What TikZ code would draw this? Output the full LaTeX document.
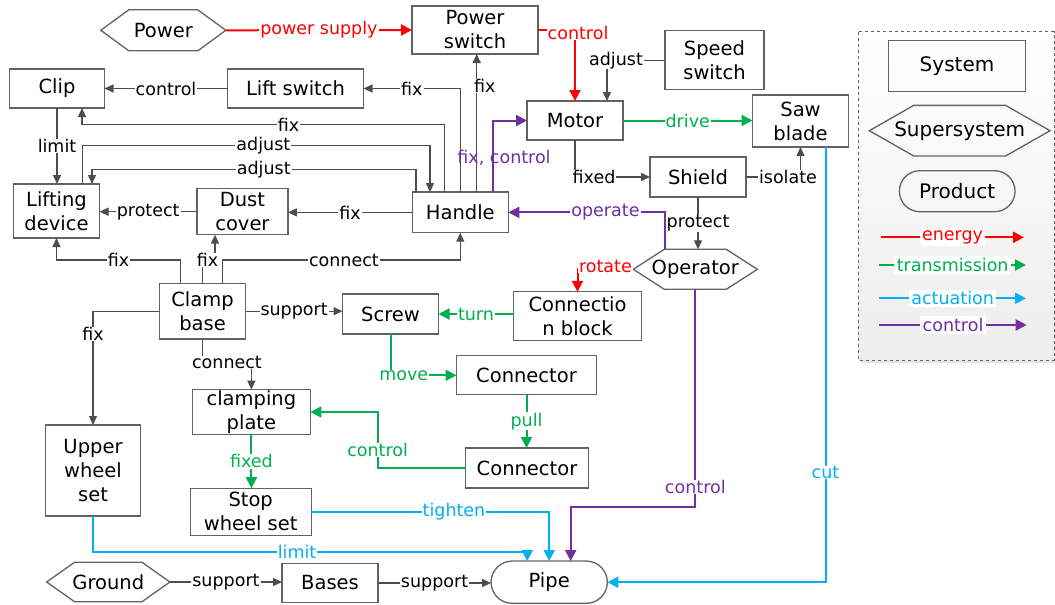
\documentclass[tikz,border=0pt]{standalone}
\usepackage{fontspec}
\setmainfont{DejaVu Sans}
\usetikzlibrary{arrows.meta,shapes.misc}
\definecolor{cred}{HTML}{FF0000}
\definecolor{cgreen}{HTML}{00B050}
\definecolor{cblue}{HTML}{00B0F0}
\definecolor{cpurple}{HTML}{7030A0}
\definecolor{lgray}{HTML}{4D4D4D}
\definecolor{bgray}{HTML}{626262}
\newcommand{\hexof}[2]{\draw[hexline] (#1.west) -- ([xshift=#2]#1.north west) -- ([xshift=-#2]#1.north east) -- (#1.east) -- ([xshift=-#2]#1.south east) -- ([xshift=#2]#1.south west) -- cycle;}
\tikzset{
  wh/.style 2 args={minimum width=#1pt,minimum height=#2pt},
  box/.style={draw=bgray,line width=1.3pt,fill=white,outer sep=0pt,inner sep=1pt,align=center,font=\fontsize{19.5}{24}\selectfont,text=black},
  hexn/.style={draw=none,outer sep=0pt,inner sep=1pt,align=center,font=\fontsize{19.5}{24}\selectfont,text=black},
  hexline/.style={draw=bgray,line width=1.3pt},
  lbl/.style={fill=white,inner xsep=1pt,inner ysep=0.5pt,font=\fontsize{17.5}{20}\selectfont,text=black},
  glink/.style={draw=lgray,line width=1.3pt,-{Triangle[length=9pt,width=8pt]}},
  rlink/.style={draw=cred,line width=2pt,-{Triangle[length=11pt,width=11pt]}},
  gnlink/.style={draw=cgreen,line width=2pt,-{Triangle[length=11pt,width=11pt]}},
  blink/.style={draw=cblue,line width=2pt,-{Triangle[length=11pt,width=11pt]}},
  plink/.style={draw=cpurple,line width=2pt,-{Triangle[length=11pt,width=11pt]}},
  leglbl/.style={lbl,inner xsep=2.5pt,inner ysep=2pt}
}
\begin{document}
\begin{tikzpicture}[x=1pt,y=-1pt]
\useasboundingbox (0,0) rectangle (1055,605);
% legend background
\fill[black!10] (861,34.5) rectangle (1055,363);
\path[draw=bgray,dashed,line width=0.8pt,top color=white,bottom color=black!7] (858.3,31.7) rectangle (1054,360);

% nodes
\node[box,wh={126}{48}] (pswitch) at (475,30) {Power\\switch};
\node[hexn,wh={125}{41}] (power) at (163.3,30.3) {Power};
\hexof{power}{28pt}
\node[box,wh={99}{59}] (speed) at (714.5,60.3) {Speed\\switch};
\node[box,wh={95}{39}] (clip) at (57,88.5) {Clip};
\node[box,wh={136}{39}] (lift) at (295.5,88.5) {Lift switch};
\node[box,wh={96}{39}] (motor) at (575,120.5) {Motor};
\node[box,wh={96}{52}] (saw) at (800.5,121) {Saw\\blade};
\node[box,wh={96}{40}] (shield) at (698,177) {Shield};
\node[box,wh={86}{54}] (lifting) at (56.5,211) {Lifting\\device};
\node[box,wh={91}{46}] (dust) at (242.4,211.7) {Dust\\cover};
\node[box,wh={96}{40.6}] (handle) at (460.3,212.4) {Handle};
\node[hexn,wh={124}{40}] (operator) at (695.3,269.3) {Operator};
\hexof{operator}{31pt}
\node[box,wh={86.4}{55.7}] (clamp) at (202.5,311.2) {Clamp\\base};
\node[box,wh={96}{40}] (screw) at (390.5,314) {Screw};
\node[box,wh={128}{49}] (connblock) at (577.5,316.3) {Connectio\\n block};
\node[box,wh={140}{39}] (conn1) at (526.5,375.3) {Connector};
\node[box,wh={118}{44}] (plate) at (251.4,412) {clamping\\plate};
\node[box,wh={123}{40}] (conn2) at (527,468) {Connector};
\node[box,wh={95}{91}] (upper) at (93,470.5) {Upper\\wheel\\set};
\node[box,wh={121}{47}] (stop) at (250.7,511.7) {Stop\\wheel set};
\node[hexn,wh={123.3}{39.5}] (ground) at (108.3,582) {Ground};
\hexof{ground}{28pt}
\node[box,wh={96}{39}] (bases) at (330,583) {Bases};
\node[box,rounded rectangle,wh={118.3}{42.3}] (pipe) at (549.2,582.2) {Pipe};

% legend nodes
\node[box,fill=none,wh={137.4}{51},font=\fontsize{20}{24}\selectfont] (lsys) at (957,66.2) {System};
\node[hexn,wh={180.7}{50.7},font=\fontsize{20}{24}\selectfont] (lsup) at (959.7,130.7) {Supersystem};
\hexof{lsup}{44.5pt}
\node[box,fill=none,rounded rectangle,wh={117.7}{41},font=\fontsize{20}{24}\selectfont] (lprod) at (957.2,191.2) {Product};
\coordinate (e1) at (881,237.3); \coordinate (e2) at (1024,237.3);
\coordinate (t1) at (879.3,265); \coordinate (t2) at (1026,265);
\coordinate (a1) at (879.3,298.3); \coordinate (a2) at (1026,298.3);
\coordinate (c1) at (879.3,325); \coordinate (c2) at (1026.7,325);
\draw[rlink] (e1) -- node[leglbl,text=cred]{energy} (e2);
\draw[gnlink] (t1) -- node[leglbl,text=cgreen]{transmission} (t2);
\draw[blink] (a1) -- node[leglbl,text=cblue]{actuation} (a2);
\draw[plink] (c1) -- node[leglbl,text=cpurple]{control} (c2);

% connectors
\draw[rlink] (power.east) -- node[lbl,text=cred]{power supply} (pswitch.west);
\draw[rlink] (pswitch.east) -| node[lbl,text=cred,pos=0.5,xshift=3pt,yshift=-2.5pt]{control} (motor.north);
\draw[glink] (speed.west) -| node[lbl,pos=0.5,xshift=9pt]{adjust} ([xshift=32pt]motor.north);
\draw[glink] (lift.west) -- node[lbl]{control} (clip.east);
\draw[glink] (handle.north) |- node[lbl,pos=0.75]{fix} (lift.east);
\draw[glink] ([xshift=16.4pt]handle.north) -- node[lbl,pos=0.77,xshift=8pt]{fix} ([xshift=16.4pt]handle.north |- pswitch.south);
\draw[glink] ([xshift=-16pt]handle.north) -- ++(0,-67.7) -| node[lbl,pos=0.215]{fix} ([xshift=25pt]clip.south);
\draw[glink] ([xshift=26.3pt]lifting.north) -- ++(0,-38.3) -| node[lbl,pos=0.26]{adjust} ([xshift=-30.3pt]handle.north);
\draw[glink] ([xshift=-44.3pt]handle.north) -- ++(0,-22.7) -| node[lbl,pos=0.235]{adjust} ([xshift=35.5pt]lifting.north);
\draw[glink] (clip.south) -- node[lbl]{limit} (clip.south |- lifting.north);
\draw[glink] (dust.west) -- node[lbl]{protect} (dust.west -| lifting.east);
\draw[glink] (handle.west) -- node[lbl]{fix} (handle.west -| dust.east);
\draw[glink] ([xshift=-21.8pt]clamp.north) -- ++(0,-23.3) -| node[lbl,pos=0.25]{fix} (lifting.south);
\draw[glink] (clamp.north) -- ++(0,-23.3) -| node[lbl,pos=0.2]{fix} ([xshift=-27.4pt]dust.south);
\draw[glink] ([xshift=20.2pt]clamp.north) -- ++(0,-23.3) -| node[lbl,pos=0.255]{connect} (handle.south);
\draw[glink] (clamp.east) -- node[lbl]{support} (clamp.east -| screw.west);
\draw[glink] (clamp.west) -| node[lbl,pos=0.6]{fix} (upper.north);
\draw[glink] (clamp.south) -- ++(0,23.5) -| node[lbl,pos=0.25]{connect} (plate.north);
\draw[gnlink] (screw.east -| connblock.west) -- node[lbl,text=cgreen]{turn} (screw.east);
\draw[rlink] (operator.west) -| node[lbl,text=cred,pos=0.25,yshift=3pt]{rotate} (connblock.north);
\draw[gnlink] (screw.south) |- node[lbl,text=cgreen,pos=0.6]{move} (conn1.west);
\draw[gnlink] (conn1.south) -- node[lbl,text=cgreen]{pull} (conn1.south |- conn2.north);
\draw[gnlink] (conn2.west) -- ++(-87.9,0) |- node[lbl,text=cgreen,pos=0.16]{control} (plate.east);
\draw[gnlink] (plate.south) -- node[lbl,text=cgreen]{fixed} (plate.south |- stop.north);
\draw[blink] (stop.east) -| node[lbl,text=cblue,pos=0.3]{tighten} (pipe.north);
\draw[blink] (upper.south) -- ++(0,35.7) -| node[lbl,text=cblue,pos=0.235]{limit} ([xshift=-22pt]pipe.north);
\draw[plink] (operator.south) -- node[lbl,text=cpurple,pos=0.91]{control} ++(0,217.4) -| ([xshift=21.5pt]pipe.north);
\draw[blink] ([xshift=25pt]saw.south) |- node[lbl,text=cblue,pos=0.374]{cut} (pipe.east);
\draw[glink] (ground.east) -- node[lbl]{support} (ground.east -| bases.west);
\draw[glink] (bases.east) -- node[lbl]{support} (bases.east -| pipe.west);
\draw[gnlink] (motor.east) -- node[lbl,text=cgreen]{drive} (motor.east -| saw.west);
\draw[glink] (motor.south) |- node[lbl,pos=0.627]{fixed} (shield.west);
\draw[glink] (shield.east) -| node[lbl,pos=0.385]{isolate} (saw.south);
\draw[glink] (shield.south) -- node[lbl]{protect} (shield.south |- operator.north);
\draw[plink] ([xshift=-30.3pt]operator.north) |- node[lbl,text=cpurple,pos=0.69]{operate} (handle.east);
\draw[plink] ([xshift=32.4pt]handle.north) |- node[lbl,fill=none,text=cpurple,pos=0.24,xshift=11.3pt]{fix, control} (motor.west);
\end{tikzpicture}
\end{document}
